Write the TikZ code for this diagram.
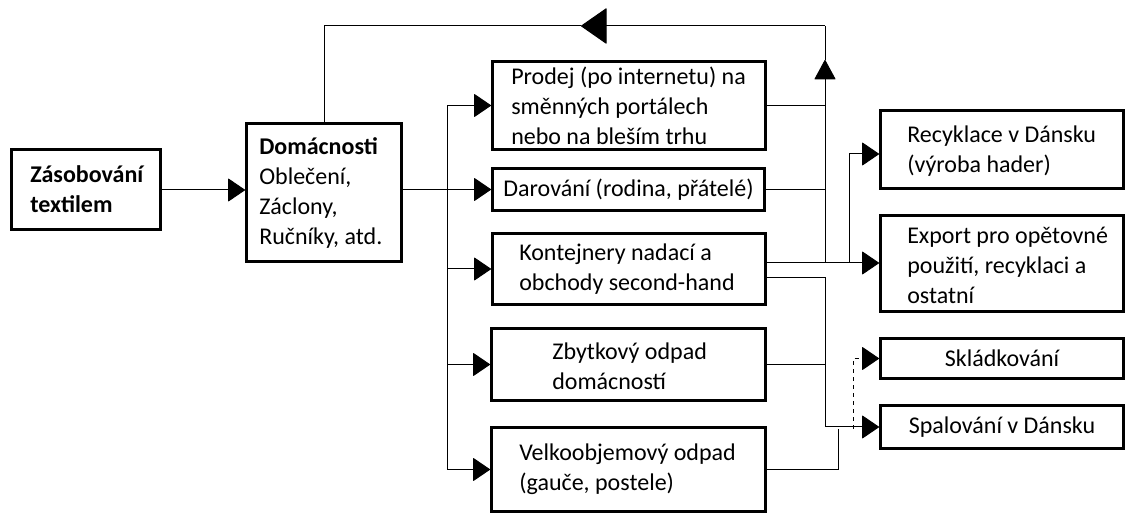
\documentclass[tikz,border=0pt]{standalone}
\usepackage{fontspec}
\setmainfont{Carlito}
\usetikzlibrary{arrows.meta}
\begin{document}
\begin{tikzpicture}[x=0.75pt,y=-0.75pt,
  box/.style={draw, line width=2.25pt, inner sep=0pt},
  bx/.style n args={2}{box, minimum width=#1*0.75pt, minimum height=#2*0.75pt},
  txt/.style={font=\fontsize{18pt}{22.5pt}\selectfont, align=left, inner sep=0pt, anchor=west},
  conn/.style={line width=0.75pt},
  arr/.style={conn, -{Triangle[length=13pt,width=17.5pt,round]}},
  uparr/.style={conn, -{Triangle[length=15pt,width=16pt,round]}},
  bigarr/.style={conn, -{Triangle[length=19.5pt,width=27pt,round]}}
]
\useasboundingbox (0,0) rectangle (1128,516);

% boxes
\node[bx={149}{80}]  (zas)    at (86,189.5) {};
\node[bx={155}{138}] (dom)    at (324,192.5) {};
\node[bx={273}{88}]  (prodej) at (629,105.5) {};
\node[bx={272}{42}]  (darov)  at (628.5,189.5) {};
\node[bx={273}{71}]  (kont)   at (629,269) {};
\node[bx={274}{72}]  (zbyt)   at (628.5,364.5) {};
\node[bx={274}{84}]  (velk)   at (628.5,469.5) {};
\node[bx={243}{78}]  (recyk)  at (1002,149.5) {};
\node[bx={243}{96}]  (export) at (1002,263.5) {};
\node[bx={243}{40}]  (sklad)  at (1002,358.5) {};
\node[bx={243}{43}]  (spal)   at (1002,427) {};

% texts
\node[txt, font=\fontsize{18pt}{22.5pt}\selectfont\bfseries] (zasT) at ([xshift=15pt]zas.west) {Zásobování\\textilem};
\node[txt] (domT) at ([xshift=10.5pt]dom.west) {\textbf{Domácnosti}\\Oblečení,\\Záclony,\\Ručníky, atd.};
\node[txt] (prodejT) at ([xshift=15pt]prodej.west) {Prodej (po internetu) na\\směnných portálech\\nebo na bleším trhu};
\node[txt, anchor=center] (darovT) at (darov) {Darování (rodina, přátelé)};
\node[txt] (kontT) at ([xshift=21pt]kont.west) {Kontejnery nadací a\\obchody second-hand};
\node[txt] (zbytT) at ([xshift=46.5pt,yshift=-1pt]zbyt.west) {Zbytkový odpad\\domácností};
\node[txt] (velkT) at ([xshift=21.75pt]velk.west) {Velkoobjemový odpad\\(gauče, postele)};
\node[txt] (recykT) at ([xshift=21pt,yshift=-1.5pt]recyk.west) {Recyklace v Dánsku\\(výroba hader)};
\node[txt] (exportT) at ([xshift=21pt,yshift=-1.5pt]export.west) {Export pro opětovné\\použití, recyklaci a\\ostatní};
\node[txt, anchor=center] (skladT) at (sklad) {Skládkování};
\node[txt, anchor=center] (spalT) at (spal) {Spalování v Dánsku};

% coordinates
\coordinate (tx) at (447,190);
\coordinate (jK) at (825,263);
\coordinate (upTip) at (825,60);
\coordinate (tr) at (825,26);
\coordinate (leftTip) at (581,26);
\coordinate (tl) at (dom.north |- tr);
\coordinate (rb) at (849,154);
\coordinate (rbase) at (849,263);
\coordinate (k2) at (825,278);
\coordinate (v2) at (838,429);
\coordinate (d1) at (853,429);

% left part
\draw[arr] (zas.east |- tx) -- (dom.west |- tx);
\draw[conn] (dom.east |- tx) -- (tx);
\draw[conn] (tx |- prodej.west) -- (tx |- velk.west);
\draw[arr] (tx |- prodej.west) -- (prodej.west);
\draw[arr] (tx |- darov.west) -- (darov.west);
\draw[arr] (tx |- kont.west) -- (kont.west);
\draw[arr] (tx |- zbyt.west) -- (zbyt.west);
\draw[arr] (tx |- velk.west) -- (velk.west);

% return loop
\draw[conn] (prodej.east) -- (prodej.east -| jK);
\draw[conn] (darov.east) -- (darov.east -| jK);
\draw[uparr] (jK) -- (upTip);
\draw[conn] (upTip) -- (tr);
\draw[bigarr] (tr) -- (leftTip);
\draw[conn] (leftTip) -- (tl) -- (dom.north);

% right part
\draw[arr] (kont.east |- jK) -- (export.west |- jK);
\draw[arr] (rbase) -- (rb) -- (rb -| recyk.west);
\draw[arr] (kont.east |- k2) -- (k2) |- (spal.west);
\draw[conn] (zbyt.east) -- (zbyt.east -| k2);
\draw[conn] (velk.east) -| (v2);
\draw[arr, dashed] (d1) |- (sklad.west);
\end{tikzpicture}
\end{document}
